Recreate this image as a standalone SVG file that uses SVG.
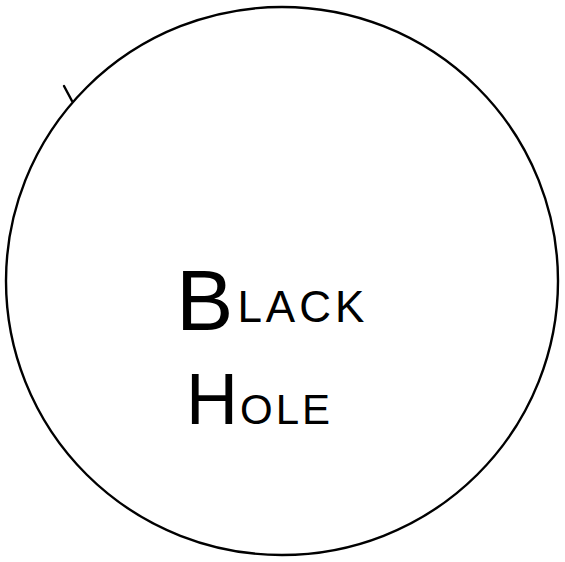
<svg xmlns="http://www.w3.org/2000/svg" width="565" height="562" viewBox="0 0 565 562">
<style>
.line{fill:none;stroke:#000;stroke-width:2.4;stroke-linecap:round}
.big{font-family:"Liberation Sans",Arial,sans-serif;fill:#000}
</style>
<rect width="565" height="562" fill="#fff"/>
<g id="black-hole">
<ellipse class="line" cx="282" cy="281" rx="276" ry="274"/>
<path class="line" d="M64 86 L72 101"/>
<text class="big" x="176" y="330" font-size="86">B<tspan font-size="44" dx="4" letter-spacing="4" dy="-8">LACK</tspan></text>
<text class="big" x="186" y="424" font-size="72">H<tspan font-size="42" dx="2" letter-spacing="3">OLE</tspan></text>
</g>
</svg>
